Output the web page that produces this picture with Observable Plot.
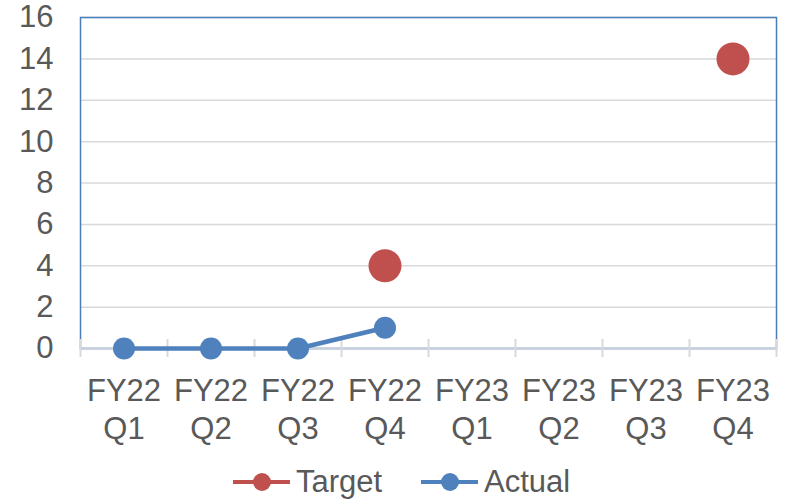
<!DOCTYPE html>
<html>
<head>
<meta charset="utf-8">
<script src="https://cdn.jsdelivr.net/npm/d3@7"></script>
<script src="https://cdn.jsdelivr.net/npm/@observablehq/plot@0.6"></script>
<style>
  html, body { margin: 0; padding: 0; background: #fff; }
  #chart { width: 786px; }
  .legend { position: relative; height: 39px; width: 786px; font-family: "Liberation Sans", Arial, sans-serif; font-size: 31px; color: #595959; }
  .item { position: absolute; top: 0; height: 39px; display: flex; align-items: center; }
  .item svg { margin-right: 6px; }
</style>
</head>
<body>
<div id="chart"></div>
<script>
const categories = ["FY22\nQ1", "FY22\nQ2", "FY22\nQ3", "FY22\nQ4", "FY23\nQ1", "FY23\nQ2", "FY23\nQ3", "FY23\nQ4"];
const targetValues = [null, null, null, 4, null, null, null, 14];
const actualValues = [0, 0, 0, 1, null, null, null, null];
const yTicks = [0, 2, 4, 6, 8, 10, 12, 14, 16];
const seriesNames = ["Target", "Actual"];
const seriesColors = ["#c0504d", "#4f81bd"];

const idx = categories.map((c, i) => i);
const target = idx.filter(i => targetValues[i] != null).map(i => ({x: i + 0.5, y: targetValues[i]}));
const actual = idx.filter(i => actualValues[i] != null).map(i => ({x: i + 0.5, y: actualValues[i]}));
const boundaries = d3.range(categories.length + 1);

const H = 462;
const chart = Plot.plot({
  width: 786,
  height: H,
  marginLeft: 80,
  marginRight: 10,
  marginTop: 17,
  marginBottom: H - 348,
  style: {fontFamily: "Liberation Sans, Arial, sans-serif", fontSize: "31px", color: "#595959", background: "#fff"},
  x: {type: "linear", domain: [0, categories.length], axis: null},
  y: {domain: [0, 16], axis: null},
  marks: [
    Plot.gridY(yTicks, {stroke: "#d9d9d9", strokeOpacity: 1, strokeWidth: 1.5}),
    Plot.frame({stroke: "#4a7ebb", strokeWidth: 1.5}),
    Plot.ruleY([0], {stroke: "#c8d0dc", strokeWidth: 2}),
    Plot.ruleX(boundaries, {stroke: "#d9d9d9", strokeWidth: 2, insetTop: 322, insetBottom: -9}),
    Plot.axisY({ticks: yTicks, tickSize: 0, tickPadding: 27, fontSize: 31, fill: "#595959", label: null}),
    Plot.text(idx, {x: i => i + 0.5, y: () => 0, text: i => categories[i], lineAnchor: "top", lineHeight: 1.23, dy: 25, fontSize: 31, fill: "#595959"}),
    Plot.line(actual, {x: "x", y: "y", stroke: seriesColors[1], strokeWidth: 4.5}),
    Plot.dot(actual, {x: "x", y: "y", r: 11, fill: seriesColors[1]}),
    Plot.dot(target, {x: "x", y: "y", r: 16.5, fill: seriesColors[0]})
  ]
});
document.getElementById("chart").appendChild(chart);

const legend = document.createElement("div");
legend.className = "legend";
const lefts = [233, 421];
seriesNames.forEach((name, k) => {
  const item = document.createElement("div");
  item.className = "item";
  item.style.left = lefts[k] + "px";
  item.innerHTML = `<svg width="57" height="20"><line x1="0" x2="57" y1="10" y2="10" stroke="${seriesColors[k]}" stroke-width="4"/><circle cx="29" cy="10" r="9" fill="${seriesColors[k]}"/></svg><span>${name}</span>`;
  legend.appendChild(item);
});
document.body.appendChild(legend);
</script>
</body>
</html>
